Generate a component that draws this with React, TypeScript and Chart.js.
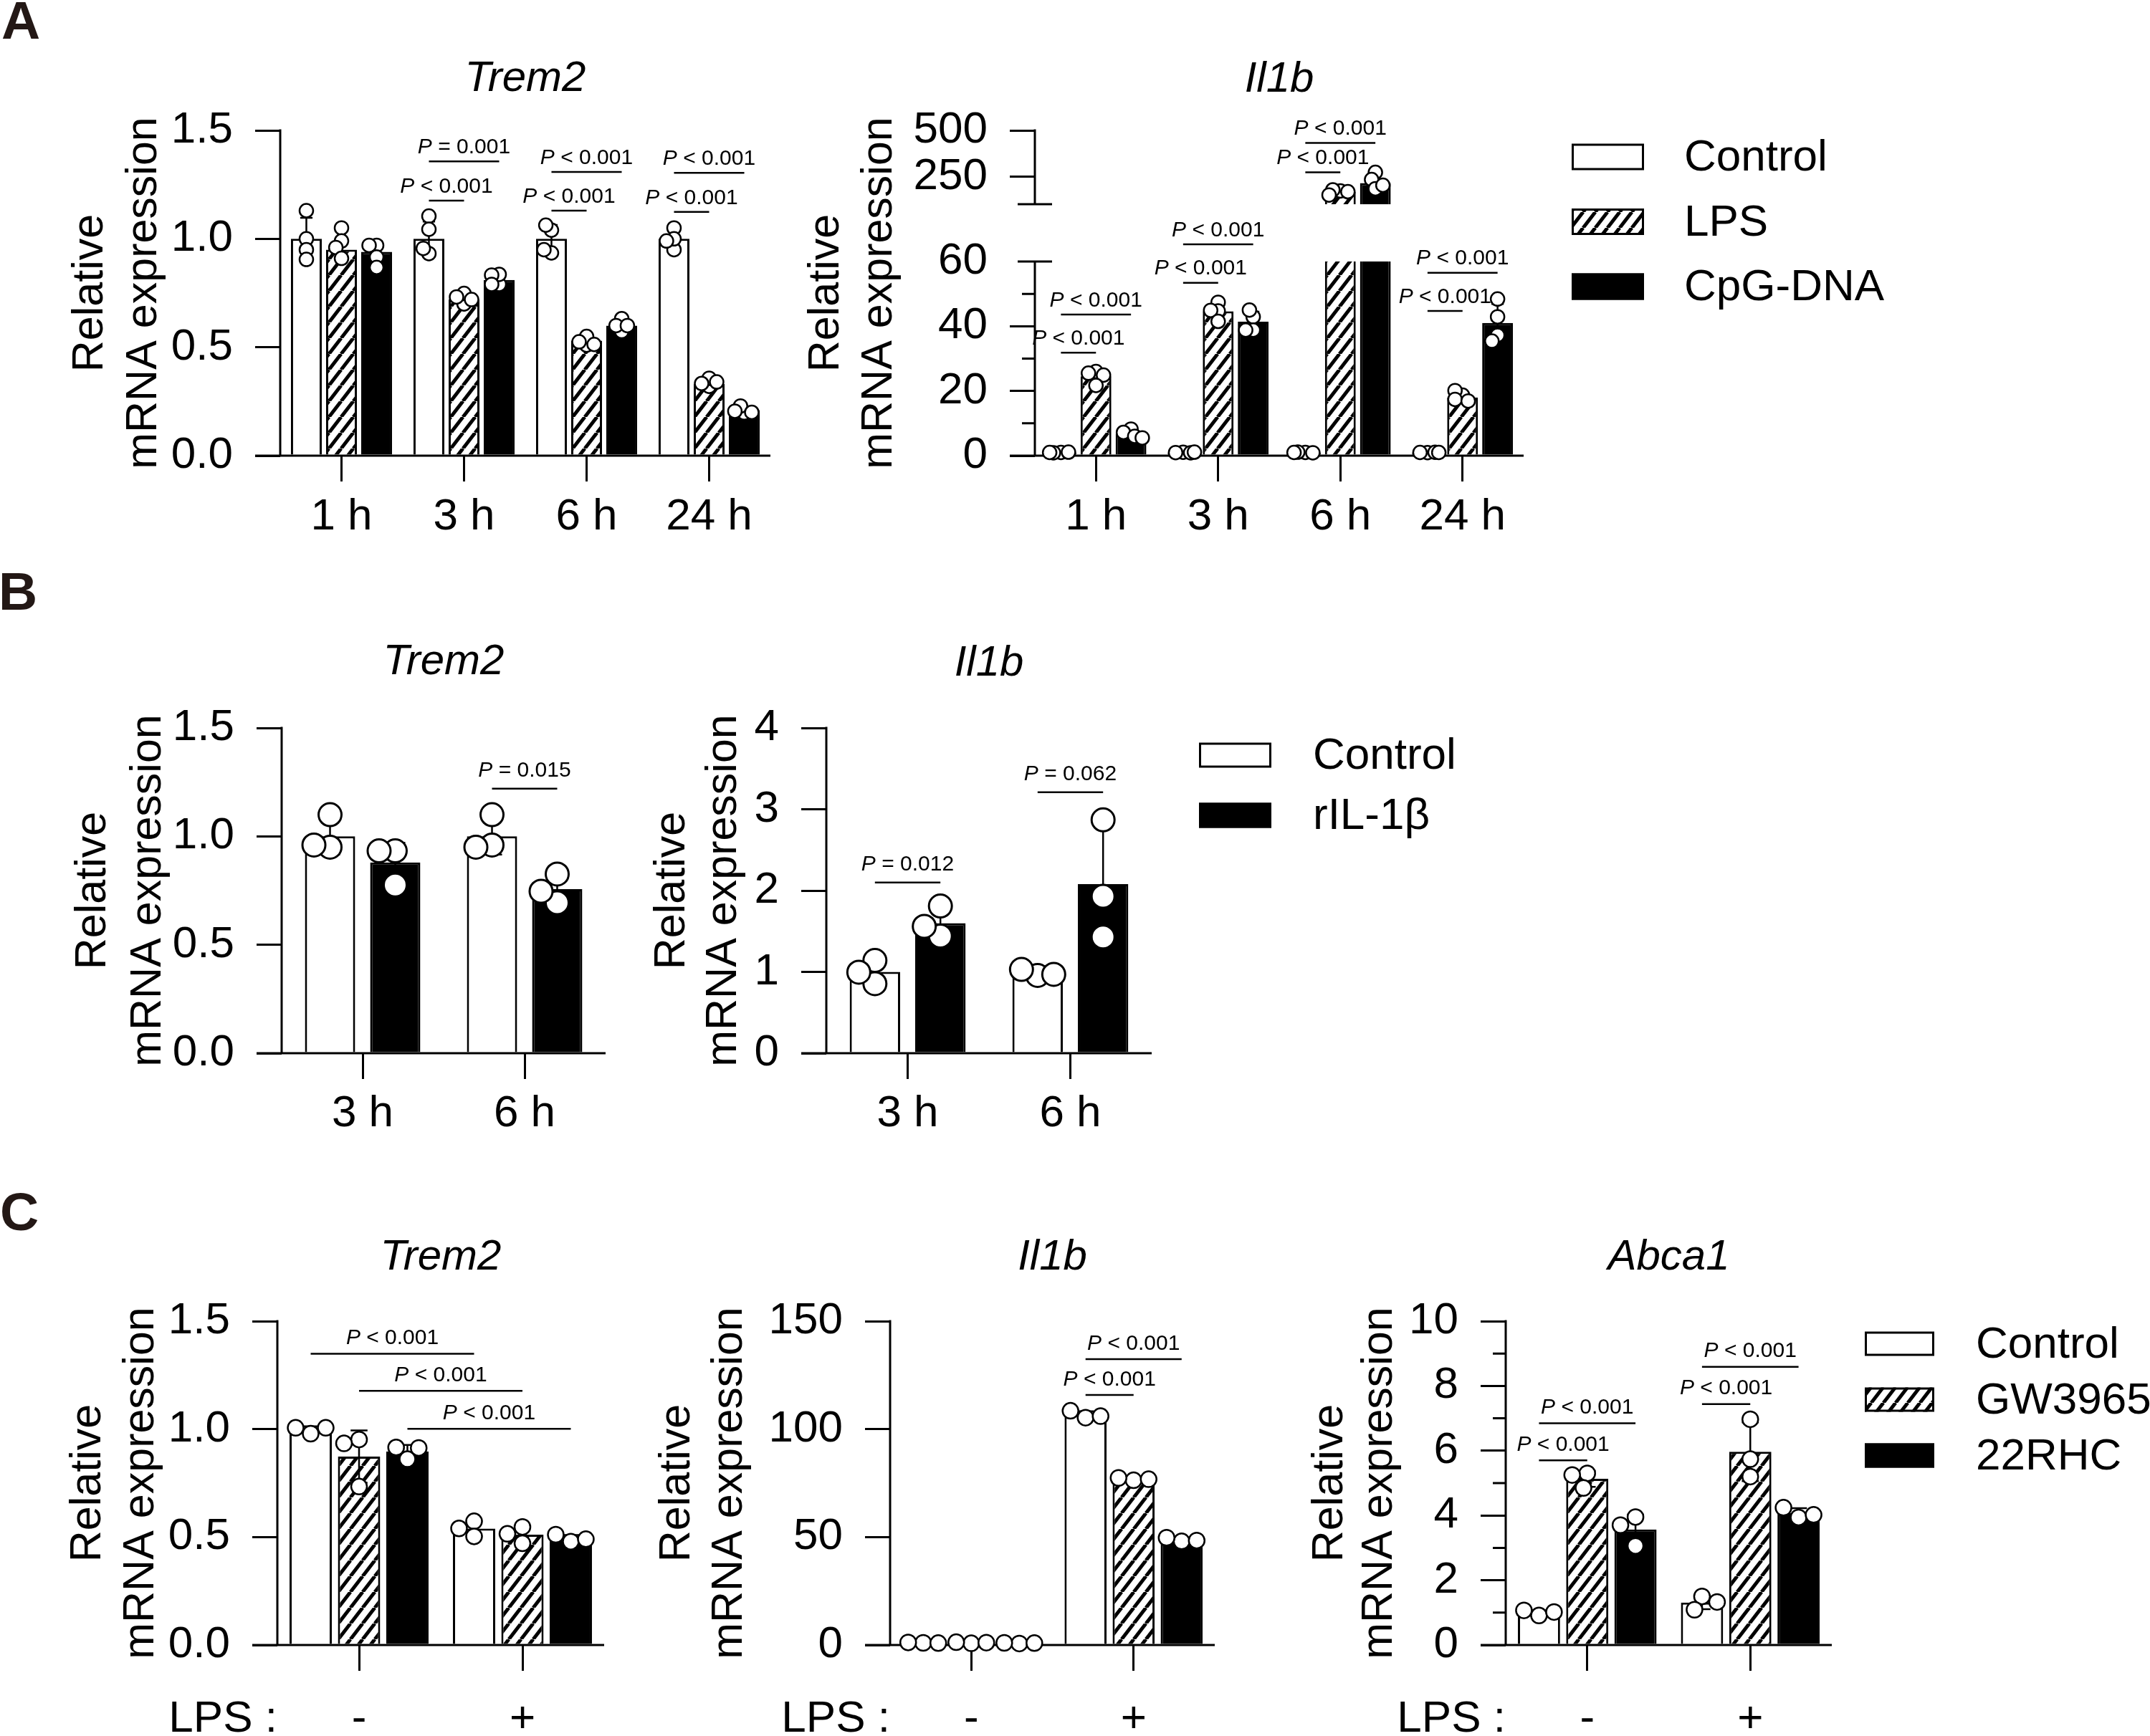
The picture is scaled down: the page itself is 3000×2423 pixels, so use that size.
import React, { useEffect, useRef } from 'react';
import { Chart, LinearScale, registerables } from 'chart.js';

Chart.register(...registerables);

const FONT = '"Liberation Sans", Arial, Helvetica, sans-serif';
Chart.defaults.font.family = FONT;
Chart.defaults.color = '#000';

// ================= DATA =================
// ---- Panel A ----
const catsA = ['1 h', '3 h', '6 h', '24 h'];
const seriesA = ['Control', 'LPS', 'CpG-DNA'];

const trem2A_control = [1.0, 1.0, 1.0, 1.0];
const trem2A_lps = [0.95, 0.72, 0.53, 0.33];
const trem2A_cpg = [0.94, 0.81, 0.6, 0.21];
const trem2A_controlPts = [[1.13, 1.0, 0.95, 0.905], [1.105, 1.044, 0.932, 0.956], [1.04, 1.063, 0.935, 0.95], [0.95, 1.05, 1.0, 0.99]];
const trem2A_lpsPts = [[1.05, 0.99, 0.96, 0.91], [0.7, 0.748, 0.732, 0.72], [0.51, 0.55, 0.525, 0.513], [0.32, 0.357, 0.333, 0.34]];
const trem2A_cpgPts = [[0.97, 0.97, 0.916, 0.868], [0.79, 0.836, 0.833, 0.79], [0.573, 0.632, 0.6, 0.6], [0.197, 0.229, 0.2, 0.205]];
const trem2A_ticks = [0, 0.5, 1.0, 1.5];
const trem2A_pvals = [
  { c1: 1, s1: 0, c2: 1, s2: 2, y: 1.357, text: '= 0.001' },
  { c1: 1, s1: 0, c2: 1, s2: 1, y: 1.176, text: '< 0.001' },
  { c1: 2, s1: 0, c2: 2, s2: 2, y: 1.308, text: '< 0.001' },
  { c1: 2, s1: 0, c2: 2, s2: 1, y: 1.13, text: '< 0.001' },
  { c1: 3, s1: 0, c2: 3, s2: 2, y: 1.304, text: '< 0.001' },
  { c1: 3, s1: 0, c2: 3, s2: 1, y: 1.124, text: '< 0.001' },
];

const il1bA_control = [1.0, 1.0, 1.0, 1.0];
const il1bA_lps = [24.5, 44.6, 167, 18.0];
const il1bA_cpg = [6.8, 41.4, 215, 41.0];
const il1bA_controlPts = [[1.0, 0.9, 1.1, 1.0], [1.05, 0.95, 0.9, 1.1], [1.0, 1.1, 0.9, 1.0], [0.95, 1.0, 1.05, 1.0]];
const il1bA_lpsPts = [[26, 25.5, 24.9, 21.7], [47.4, 44.7, 44.9, 41.5], [172, 178, 168, 150], [18.7, 20.1, 17.4, 16.9]];
const il1bA_cpgPts = [[8.2, 7.2, 6.0, 5.5], [42.9, 45, 38.8, 38.8], [273, 234, 184, 203], [48.4, 42.9, 37.2, 35.4]];
const il1bA_ticks = [0, 20, 40, 60, 250, 500];
const il1bA_minor = [10, 30, 50];
const il1bA_pvals = [
  { c1: 0, s1: 0, c2: 0, s2: 2, y: 43.6, text: '< 0.001' },
  { c1: 0, s1: 0, c2: 0, s2: 1, y: 31.8, text: '< 0.001' },
  { c1: 1, s1: 0, c2: 1, s2: 2, y: 72, text: '< 0.001' },
  { c1: 1, s1: 0, c2: 1, s2: 1, y: 53.4, text: '< 0.001' },
  { c1: 2, s1: 0, c2: 2, s2: 2, y: 432, text: '< 0.001' },
  { c1: 2, s1: 0, c2: 2, s2: 1, y: 273, text: '< 0.001' },
  { c1: 3, s1: 0, c2: 3, s2: 2, y: 56.5, text: '< 0.001' },
  { c1: 3, s1: 0, c2: 3, s2: 1, y: 44.7, text: '< 0.001' },
];

// ---- Panel B ----
const catsB = ['3 h', '6 h'];
const seriesB = ['Control', 'rIL-1β'];

const trem2B_control = [1.0, 1.0];
const trem2B_ril = [0.88, 0.757];
const trem2B_controlPts = [[1.1, 0.95, 0.96], [1.1, 0.96, 0.95]];
const trem2B_rilPts = [[0.933, 0.933, 0.776], [0.826, 0.694, 0.747]];
const trem2B_ticks = [0, 0.5, 1.0, 1.5];
const trem2B_pvals = [{ c1: 1, s1: 0, c2: 1, s2: 1, y: 1.22, text: '= 0.015' }];

const il1bB_control = [1.0, 0.985];
const il1bB_ril = [1.6, 2.08];
const il1bB_controlPts = [[1.14, 0.855, 0.996], [0.956, 1.03, 0.97]];
const il1bB_rilPts = [[1.81, 1.44, 1.56], [2.87, 1.93, 1.43]];
const il1bB_ticks = [0, 1, 2, 3, 4];
const il1bB_pvals = [
  { c1: 0, s1: 0, c2: 0, s2: 1, y: 2.1, text: '= 0.012' },
  { c1: 1, s1: 0, c2: 1, s2: 1, y: 3.21, text: '= 0.062' },
];

// ---- Panel C ----
const catsC = ['-', '+'];
const seriesC = ['Control', 'GW3965', '22RHC'];

const trem2C_control = [0.997, 0.539];
const trem2C_gw = [0.873, 0.511];
const trem2C_rhc = [0.896, 0.493];
const trem2C_controlPts = [[0.979, 1.006, 1.006], [0.573, 0.503, 0.54]];
const trem2C_gwPts = [[0.952, 0.934, 0.734], [0.547, 0.471, 0.515]];
const trem2C_rhcPts = [[0.861, 0.915, 0.913], [0.479, 0.511, 0.49]];
const trem2C_ticks = [0, 0.5, 1.0, 1.5];
const trem2C_pvals = [
  { c1: 0, s1: 0, c2: 1, s2: 0, y: 1.349, text: '< 0.001' },
  { c1: 0, s1: 1, c2: 1, s2: 1, y: 1.177, text: '< 0.001' },
  { c1: 0, s1: 2, c2: 1, s2: 2, y: 1.001, text: '< 0.001' },
];

const il1bC_control = [1.0, 106.6];
const il1bC_gw = [1.1, 76.8];
const il1bC_rhc = [0.9, 48.7];
const il1bC_controlPts = [[1.0, 1.2, 0.9], [105.3, 108.5, 106]];
const il1bC_gwPts = [[0.8, 1.3, 1.1], [76.3, 77.4, 76.8]];
const il1bC_rhcPts = [[0.7, 1.0, 0.9], [48, 49.7, 48.4]];
const il1bC_ticks = [0, 50, 100, 150];
const il1bC_pvals = [
  { c1: 1, s1: 0, c2: 1, s2: 2, y: 132.4, text: '< 0.001' },
  { c1: 1, s1: 0, c2: 1, s2: 1, y: 115.8, text: '< 0.001' },
];

const abca1C_control = [0.99, 1.31];
const abca1C_gw = [5.13, 5.97];
const abca1C_rhc = [3.57, 4.07];
const abca1C_controlPts = [[0.91, 1.07, 1.02], [1.5, 1.09, 1.33]];
const abca1C_gwPts = [[5.3, 4.85, 5.25], [6.97, 5.74, 5.2]];
const abca1C_rhcPts = [[3.95, 3.7, 3.06], [3.94, 4.24, 4.02]];
const abca1C_ticks = [0, 2, 4, 6, 8, 10];
const abca1C_minor = [1, 3, 5, 7, 9];
const abca1C_pvals = [
  { c1: 0, s1: 0, c2: 0, s2: 2, y: 6.85, text: '< 0.001' },
  { c1: 0, s1: 0, c2: 0, s2: 1, y: 5.7, text: '< 0.001' },
  { c1: 1, s1: 0, c2: 1, s2: 2, y: 8.59, text: '< 0.001' },
  { c1: 1, s1: 0, c2: 1, s2: 1, y: 7.44, text: '< 0.001' },
];

// ================= BROKEN AXIS SCALE =================
const BRK = { lowMax: 60, highMin: 100, max: 500, lowFrac: 0.597, highFrac: 0.773 };

class BrokenScale extends LinearScale {
  static id = 'brokenLinear';
  static defaults = LinearScale.defaults;
  getPixelForValue(value: number) {
    let d: number;
    if (value <= BRK.lowMax) d = (value / BRK.lowMax) * BRK.lowFrac;
    else if (value <= BRK.highMin)
      d = BRK.lowFrac + ((value - BRK.lowMax) / (BRK.highMin - BRK.lowMax)) * (BRK.highFrac - BRK.lowFrac);
    else d = BRK.highFrac + ((value - BRK.highMin) / (BRK.max - BRK.highMin)) * (1 - BRK.highFrac);
    return this.getPixelForDecimal(d);
  }
}
Chart.register(BrokenScale);

// ================= HELPERS =================
const Y_BOX = 250; // width reserved for y tick labels (inside left padding)

let HATCH: CanvasPattern | null = null;
function getHatch(): CanvasPattern {
  if (HATCH) return HATCH;
  const w = 17, h = 22;
  const c = document.createElement('canvas');
  c.width = w; c.height = h;
  const g = c.getContext('2d')!;
  g.fillStyle = '#fff';
  g.fillRect(0, 0, w, h);
  g.strokeStyle = '#000';
  g.lineWidth = 5;
  for (const m of [-1, 0, 1]) {
    g.beginPath();
    g.moveTo(m * w, h);
    g.lineTo((m + 1) * w, 0);
    g.stroke();
  }
  HATCH = g.createPattern(c, 'repeat')!;
  return HATCH;
}

function sampleSD(a: number[]) {
  const m = a.reduce((s, v) => s + v, 0) / a.length;
  return Math.sqrt(a.reduce((s, v) => s + (v - m) * (v - m), 0) / (a.length - 1));
}

function swarm(ys: number[], md: number, maxOff: number): number[] {
  const step = Math.max(1, md / 4);
  const cands = [0];
  for (let k = 1; k * step <= maxOff; k++) cands.push(-k * step, k * step);
  const placed: [number, number][] = [];
  return ys.map((y) => {
    let best = 0, bestD = -1;
    for (const c of cands) {
      let dmin = Infinity;
      for (const [px, py] of placed) dmin = Math.min(dmin, Math.hypot(px - c, py - y));
      if (dmin >= md) { best = c; break; }
      if (dmin > bestD) { bestD = dmin; best = c; }
    }
    placed.push([best, y]);
    return best;
  });
}

function drawP(ctx: CanvasRenderingContext2D, rest: string, cx: number, baseline: number) {
  ctx.textBaseline = 'alphabetic';
  ctx.textAlign = 'left';
  ctx.font = `italic 30px ${FONT}`;
  const wP = ctx.measureText('P').width;
  ctx.font = `30px ${FONT}`;
  const r = ' ' + rest;
  const wR = ctx.measureText(r).width;
  const x0 = cx - (wP + wR) / 2;
  ctx.fillStyle = '#000';
  ctx.font = `italic 30px ${FONT}`;
  ctx.fillText('P', x0, baseline);
  ctx.font = `30px ${FONT}`;
  ctx.fillText(r, x0 + wP, baseline);
}

type Fill = 'white' | 'hatch' | 'black';
interface Series { label: string; fill: Fill; bars: number[]; pts: number[][] }
interface PVal { c1: number; s1: number; c2: number; s2: number; y: number; text: string }
interface Legend { dx: number; cy0: number; step: number; w: number; h: number; textDx: number }
interface PanelCfg {
  key: string; L: number; R: number; T: number; B: number;
  padL: number; padR: number; padT: number; padB: number;
  categories: string[]; series: Series[];
  yMax: number; ticks: number[]; minor: number[]; decimals: number; broken: boolean;
  title: string; titleDy: number; yTitle: [number, number]; xPad: number; lps: boolean;
  pvals: PVal[]; pOff: number; dotR: number; dotBW: number; swarmDist: number;
  catPct: number; barPct: number; legend: Legend | null;
}

const mk = (labels: string[], fills: Fill[], bars: number[][], pts: number[][][]): Series[] =>
  labels.map((label, i) => ({ label, fill: fills[i], bars: bars[i], pts: pts[i] }));

const PANELS: PanelCfg[] = [
  {
    key: 'A1', L: 391, R: 1075, T: 182, B: 636, padL: 340, padR: 40, padT: 150, padB: 150,
    categories: catsA,
    series: mk(seriesA, ['white', 'hatch', 'black'], [trem2A_control, trem2A_lps, trem2A_cpg], [trem2A_controlPts, trem2A_lpsPts, trem2A_cpgPts]),
    yMax: 1.5, ticks: trem2A_ticks, minor: [], decimals: 1, broken: false,
    title: 'Trem2', titleDy: -55, yTitle: [248, 173], xPad: 13, lps: false,
    pvals: trem2A_pvals, pOff: 22, dotR: 9.5, dotBW: 2.5, swarmDist: 10.5,
    catPct: 0.86, barPct: 0.878, legend: null,
  },
  {
    key: 'A2', L: 1444, R: 2126, T: 182, B: 636, padL: 340, padR: 600, padT: 150, padB: 150,
    categories: catsA,
    series: mk(seriesA, ['white', 'hatch', 'black'], [il1bA_control, il1bA_lps, il1bA_cpg], [il1bA_controlPts, il1bA_lpsPts, il1bA_cpgPts]),
    yMax: 500, ticks: il1bA_ticks, minor: il1bA_minor, decimals: 0, broken: true,
    title: 'Il1b', titleDy: -54, yTitle: [274, 200], xPad: 13, lps: false,
    pvals: il1bA_pvals, pOff: 22, dotR: 9.5, dotBW: 2.5, swarmDist: 10.5,
    catPct: 0.86, barPct: 0.878,
    legend: { dx: 67, cy0: 37, step: 90.5, w: 101, h: 37, textDx: 157 },
  },
  {
    key: 'B1', L: 393, R: 845, T: 1016, B: 1470, padL: 340, padR: 40, padT: 150, padB: 150,
    categories: catsB,
    series: mk(seriesB, ['white', 'black'], [trem2B_control, trem2B_ril], [trem2B_controlPts, trem2B_rilPts]),
    yMax: 1.5, ticks: trem2B_ticks, minor: [], decimals: 1, broken: false,
    title: 'Trem2', titleDy: -75, yTitle: [246, 169], xPad: 12, lps: false,
    pvals: trem2B_pvals, pOff: 27, dotR: 16, dotBW: 3, swarmDist: 30,
    catPct: 0.805, barPct: 0.77, legend: null,
  },
  {
    key: 'B2', L: 1153, R: 1607, T: 1016, B: 1470, padL: 340, padR: 600, padT: 150, padB: 150,
    categories: catsB,
    series: mk(seriesB, ['white', 'black'], [il1bB_control, il1bB_ril], [il1bB_controlPts, il1bB_rilPts]),
    yMax: 4, ticks: il1bB_ticks, minor: [], decimals: 0, broken: false,
    title: 'Il1b', titleDy: -73, yTitle: [198, 126], xPad: 12, lps: false,
    pvals: il1bB_pvals, pOff: 27, dotR: 16, dotBW: 3, swarmDist: 30,
    catPct: 0.805, barPct: 0.77,
    legend: { dx: 66, cy0: 38, step: 84, w: 101, h: 35, textDx: 159 },
  },
  {
    key: 'C1', L: 387, R: 843, T: 1844, B: 2296, padL: 340, padR: 40, padT: 150, padB: 127,
    categories: catsC,
    series: mk(seriesC, ['white', 'hatch', 'black'], [trem2C_control, trem2C_gw, trem2C_rhc], [trem2C_controlPts, trem2C_gwPts, trem2C_rhcPts]),
    yMax: 1.5, ticks: trem2C_ticks, minor: [], decimals: 1, broken: false,
    title: 'Trem2', titleDy: -72, yTitle: [247, 173], xPad: 31, lps: true,
    pvals: trem2C_pvals, pOff: 24, dotR: 11, dotBW: 2.5, swarmDist: 21,
    catPct: 0.888, barPct: 0.874, legend: null,
  },
  {
    key: 'C2', L: 1242, R: 1695, T: 1844, B: 2296, padL: 340, padR: 40, padT: 150, padB: 127,
    categories: catsC,
    series: mk(seriesC, ['white', 'hatch', 'black'], [il1bC_control, il1bC_gw, il1bC_rhc], [il1bC_controlPts, il1bC_gwPts, il1bC_rhcPts]),
    yMax: 150, ticks: il1bC_ticks, minor: [], decimals: 0, broken: false,
    title: 'Il1b', titleDy: -72, yTitle: [280, 207], xPad: 31, lps: true,
    pvals: il1bC_pvals, pOff: 24, dotR: 11, dotBW: 2.5, swarmDist: 21,
    catPct: 0.888, barPct: 0.874, legend: null,
  },
  {
    key: 'C3', L: 2101, R: 2556, T: 1844, B: 2296, padL: 340, padR: 444, padT: 150, padB: 127,
    categories: catsC,
    series: mk(seriesC, ['white', 'hatch', 'black'], [abca1C_control, abca1C_gw, abca1C_rhc], [abca1C_controlPts, abca1C_gwPts, abca1C_rhcPts]),
    yMax: 10, ticks: abca1C_ticks, minor: abca1C_minor, decimals: 0, broken: false,
    title: 'Abca1', titleDy: -72, yTitle: [228, 159], xPad: 31, lps: true,
    pvals: abca1C_pvals, pOff: 24, dotR: 11, dotBW: 2.5, swarmDist: 21,
    catPct: 0.888, barPct: 0.874,
    legend: { dx: 46, cy0: 31.5, step: 78, w: 97, h: 34, textDx: 155 },
  },
];

function decorPlugin(p: PanelCfg, fills: Record<Fill, any>) {
  return {
    id: 'decor_' + p.key,
    afterDatasetsDraw(chart: any) {
      const ctx = chart.ctx as CanvasRenderingContext2D;
      const ca = chart.chartArea;
      const ys = chart.scales.y;
      ctx.save();
      ctx.lineCap = 'butt';
      // broken-axis gap
      if (p.broken) {
        const yHi = ys.getPixelForValue(BRK.highMin);
        const yLo = ys.getPixelForValue(BRK.lowMax);
        ctx.fillStyle = '#fff';
        ctx.fillRect(ca.left + 2, yHi, ca.right - ca.left, yLo - yHi);
      }
      // axes
      ctx.strokeStyle = '#000';
      ctx.lineWidth = 3;
      ctx.beginPath();
      ctx.moveTo(ca.left - 35, ca.bottom);
      ctx.lineTo(ca.right, ca.bottom);
      if (p.broken) {
        ctx.moveTo(ca.left, ca.bottom + 1.5);
        ctx.lineTo(ca.left, ys.getPixelForValue(BRK.lowMax));
        ctx.moveTo(ca.left, ys.getPixelForValue(BRK.highMin));
        ctx.lineTo(ca.left, ca.top - 1.5);
        for (const v of [BRK.lowMax, BRK.highMin]) {
          const y = ys.getPixelForValue(v);
          ctx.moveTo(ca.left - 24, y);
          ctx.lineTo(ca.left + 24, y);
        }
      } else {
        ctx.moveTo(ca.left, ca.bottom + 1.5);
        ctx.lineTo(ca.left, ca.top - 1.5);
      }
      for (const v of p.minor) {
        const y = ys.getPixelForValue(v);
        ctx.moveTo(ca.left - 18, y);
        ctx.lineTo(ca.left, y);
      }
      ctx.stroke();

      // error bars and points
      const items: { x: number; w: number; mean: number; pts: number[] }[] = [];
      p.series.forEach((s, si) => {
        const meta = chart.getDatasetMeta(si);
        s.bars.forEach((mean, ci) => {
          const el = meta.data[ci];
          items.push({ x: el.x, w: el.width, mean, pts: s.pts[ci] });
        });
      });
      ctx.lineWidth = 2.5;
      ctx.strokeStyle = '#000';
      for (const it of items) {
        const e = sampleSD(it.pts);
        const yT = ys.getPixelForValue(it.mean + e);
        const yB = ys.getPixelForValue(Math.max(0, it.mean - e));
        const cw = it.w * 0.2;
        ctx.beginPath();
        ctx.moveTo(it.x, yT); ctx.lineTo(it.x, yB);
        ctx.moveTo(it.x - cw, yT); ctx.lineTo(it.x + cw, yT);
        ctx.moveTo(it.x - cw, yB); ctx.lineTo(it.x + cw, yB);
        ctx.stroke();
      }
      for (const it of items) {
        const py = it.pts.map((v) => ys.getPixelForValue(v));
        const offs = swarm(py, p.swarmDist, Math.max(0, it.w / 2 - p.dotR * 0.4));
        ctx.lineWidth = p.dotBW;
        py.forEach((y, k) => {
          ctx.beginPath();
          ctx.arc(it.x + offs[k], y, p.dotR, 0, Math.PI * 2);
          ctx.fillStyle = '#fff';
          ctx.fill();
          ctx.strokeStyle = '#000';
          ctx.stroke();
        });
      }

      // significance brackets
      ctx.lineWidth = 2.5;
      ctx.strokeStyle = '#000';
      for (const a of p.pvals) {
        const x1 = chart.getDatasetMeta(a.s1).data[a.c1].x;
        const x2 = chart.getDatasetMeta(a.s2).data[a.c2].x;
        const y = ys.getPixelForValue(a.y);
        ctx.beginPath();
        ctx.moveTo(x1, y);
        ctx.lineTo(x2, y);
        ctx.stroke();
        drawP(ctx, a.text, (x1 + x2) / 2, y - p.pOff + 10.7);
      }

      // gene title
      ctx.fillStyle = '#000';
      ctx.font = `italic 60px ${FONT}`;
      ctx.textAlign = 'center';
      ctx.textBaseline = 'alphabetic';
      ctx.fillText(p.title, (ca.left + ca.right) / 2, ca.top + p.titleDy);

      // y-axis title (two lines, rotated)
      const midY = (ca.top + ca.bottom) / 2;
      ctx.font = `61px ${FONT}`;
      ['Relative', 'mRNA expression'].forEach((t, i) => {
        ctx.save();
        ctx.translate(ca.left - p.yTitle[i], midY);
        ctx.rotate(-Math.PI / 2);
        ctx.textAlign = 'center';
        ctx.textBaseline = 'alphabetic';
        ctx.fillText(t, 0, 0);
        ctx.restore();
      });

      // LPS row label
      if (p.lps) {
        ctx.font = `62px ${FONT}`;
        ctx.textAlign = 'right';
        ctx.textBaseline = 'middle';
        ctx.fillText('LPS :', ca.left, ca.bottom + 36 + p.xPad + 37.2);
      }

      // legend
      if (p.legend) {
        const lg = p.legend;
        p.series.forEach((s, i) => {
          const bx = ca.right + lg.dx;
          const cy = ca.top + lg.cy0 + i * lg.step;
          const by = cy - lg.h / 2;
          ctx.fillStyle = fills[s.fill];
          ctx.fillRect(bx, by, lg.w, lg.h);
          ctx.lineWidth = 3;
          ctx.strokeStyle = '#000';
          ctx.strokeRect(bx + 1.5, by + 1.5, lg.w - 3, lg.h - 3);
          ctx.fillStyle = '#000';
          ctx.font = `62px ${FONT}`;
          ctx.textAlign = 'left';
          ctx.textBaseline = 'middle';
          ctx.fillText(s.label, bx + lg.textDx, cy + 2);
        });
      }
      ctx.restore();
    },
  };
}

function buildConfig(p: PanelCfg) {
  const fills: Record<Fill, any> = { white: '#ffffff', hatch: getHatch(), black: '#000000' };
  const fmt = (v: any) => (p.decimals ? Number(v).toFixed(p.decimals) : String(v));
  return {
    type: 'bar',
    data: {
      labels: p.categories,
      datasets: p.series.map((s) => ({
        label: s.label,
        data: s.bars,
        backgroundColor: fills[s.fill],
        borderColor: '#000',
        borderWidth: 3,
        categoryPercentage: p.catPct,
        barPercentage: p.barPct,
      })),
    },
    options: {
      responsive: false,
      animation: false,
      devicePixelRatio: 1,
      events: [],
      layout: { padding: { left: p.padL - Y_BOX, right: p.padR, top: p.padT, bottom: 0 } },
      plugins: { legend: { display: false }, tooltip: { enabled: false }, title: { display: false } },
      scales: {
        x: {
          type: 'category',
          offset: true,
          grid: {
            display: true, drawOnChartArea: false, drawTicks: true, tickLength: 36, offset: false,
            color: '#000', lineWidth: 3, tickColor: '#000', tickWidth: 3,
          },
          border: { display: false },
          ticks: { font: { size: 62 }, color: '#000', padding: p.xPad, autoSkip: false, maxRotation: 0, minRotation: 0 },
          afterFit: (s: any) => { s.height = p.padB; },
        },
        y: {
          type: p.broken ? 'brokenLinear' : 'linear',
          min: 0,
          max: p.yMax,
          grid: {
            display: true, drawOnChartArea: false, drawTicks: true, tickLength: 35,
            color: '#000', lineWidth: 3, tickWidth: 3,
            tickColor: (c: any) => (p.broken && c.tick && c.tick.value === BRK.lowMax ? 'rgba(0,0,0,0)' : '#000'),
          },
          border: { display: false },
          ticks: { font: { size: 62 }, color: '#000', padding: 31, autoSkip: false, callback: fmt },
          afterBuildTicks: (s: any) => { s.ticks = p.ticks.map((v) => ({ value: v })); },
          afterFit: (s: any) => { s.width = Y_BOX; },
        },
      },
    },
    plugins: [decorPlugin(p, fills)],
  };
}

function ChartPanel({ p }: { p: PanelCfg }) {
  const ref = useRef<HTMLCanvasElement>(null);
  const w = p.R - p.L + p.padL + p.padR;
  const h = p.B - p.T + p.padT + p.padB;
  useEffect(() => {
    const chart = new Chart(ref.current as HTMLCanvasElement, buildConfig(p) as any);
    return () => chart.destroy();
  }, []);
  return (
    <canvas
      ref={ref}
      width={w}
      height={h}
      style={{ position: 'absolute', left: p.L - p.padL, top: p.T - p.padT, width: w, height: h }}
    />
  );
}

const letterStyle = (left: number, top: number): React.CSSProperties => ({
  position: 'absolute', left, top, fontFamily: FONT, fontWeight: 'bold', fontSize: 75, lineHeight: '75px', color: '#231815',
});

export default function App() {
  return (
    <div style={{ position: 'absolute', left: 0, top: 0, width: 3000, height: 2423, background: '#fff', overflow: 'hidden' }}>
      {PANELS.map((p) => <ChartPanel key={p.key} p={p} />)}
      <div style={letterStyle(2, -9)}>A</div>
      <div style={letterStyle(-2, 788)}>B</div>
      <div style={letterStyle(0, 1654)}>C</div>
    </div>
  );
}
